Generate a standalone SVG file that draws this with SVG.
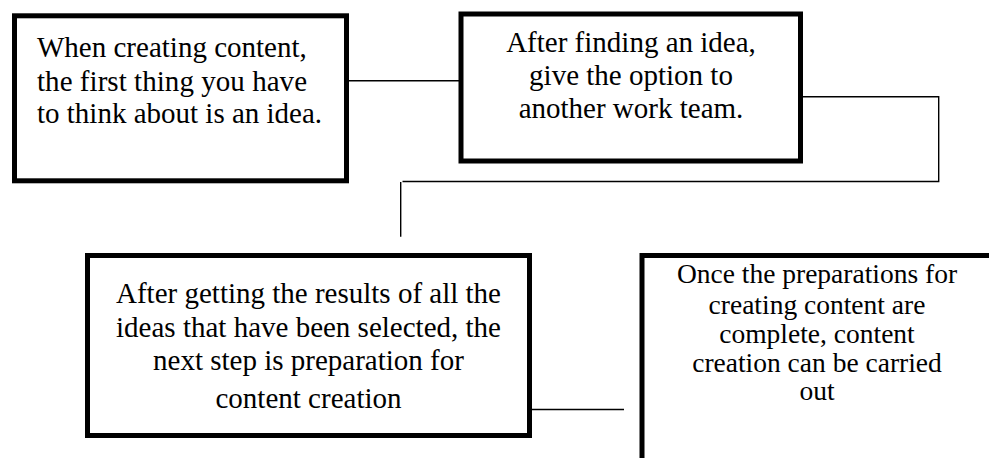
<svg xmlns="http://www.w3.org/2000/svg" width="989" height="458" viewBox="0 0 989 458">
<style>
.box{fill:#fff;stroke:#000;stroke-width:5;}
.t{font-family:"Liberation Serif","Times New Roman",serif;font-size:29px;fill:#000;}
.s{font-size:27.5px;}
.c{text-anchor:middle;}
.conn{fill:none;stroke:#000;stroke-width:1.4;}
</style>
<rect width="989" height="458" fill="#fff"/>
<g id="connectors">
<line class="conn" x1="349" y1="80.8" x2="459" y2="80.8"/>
<polyline class="conn" points="803,96.8 938.7,96.8 938.7,181.5 402.5,181.5"/>
<line class="conn" x1="400.7" y1="182" x2="400.7" y2="236.7"/>
<line class="conn" x1="532" y1="409.5" x2="624" y2="409.5"/>
</g>
<g id="node1">
<rect class="box" x="14.5" y="15.8" width="332" height="165"/>
<text class="t" x="37" y="56.7">When creating content,</text>
<text class="t" x="37" y="90.7" textLength="270" lengthAdjust="spacing">the first thing you have</text>
<text class="t" x="37" y="123.3">to think about is an idea.</text>
</g>
<g id="node2">
<rect class="box" x="461" y="14" width="339.5" height="147"/>
<text class="t c" x="631" y="51.7">After finding an idea,</text>
<text class="t c" x="631" y="85">give the option to</text>
<text class="t c" x="631" y="118.3">another work team.</text>
</g>
<g id="node3">
<rect class="box" x="87.5" y="255.5" width="442" height="180"/>
<text class="t c" x="308.5" y="303">After getting the results of all the</text>
<text class="t c" x="308.5" y="337">ideas that have been selected, the</text>
<text class="t c" x="308.5" y="370">next step is preparation for</text>
<text class="t c" x="308.5" y="408">content creation</text>
</g>
<g id="node4">
<rect class="box" x="642" y="255.5" width="350" height="220"/>
<text class="t s c" x="817" y="283.3">Once the preparations for</text>
<text class="t s c" x="817" y="314">creating content are</text>
<text class="t s c" x="817" y="342.7">complete, content</text>
<text class="t s c" x="817" y="371.7">creation can be carried</text>
<text class="t s c" x="817" y="400">out</text>
</g>
</svg>
